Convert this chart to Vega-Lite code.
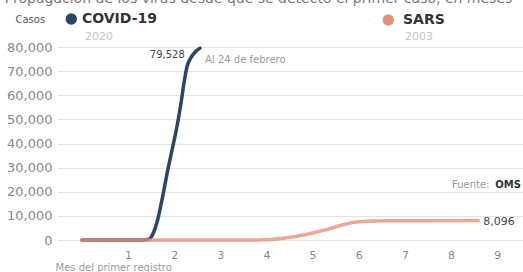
{
  "$schema": "https://vega.github.io/schema/vega-lite/v6.json",
  "width": 466,
  "height": 193,
  "autosize": "none",
  "padding": {"left": 57, "top": 47, "right": 0, "bottom": 32},
  "config": {"font": "DejaVu Sans", "view": {"stroke": null}},
  "datasets": {
    "series": [
      {"series": "COVID-19", "month": 0, "cases": 0},
      {"series": "COVID-19", "month": 0.5, "cases": 0},
      {"series": "COVID-19", "month": 1.0, "cases": 0},
      {"series": "COVID-19", "month": 1.3, "cases": 50},
      {"series": "COVID-19", "month": 1.45, "cases": 300},
      {"series": "COVID-19", "month": 1.55, "cases": 3000},
      {"series": "COVID-19", "month": 1.65, "cases": 9000},
      {"series": "COVID-19", "month": 1.75, "cases": 18000},
      {"series": "COVID-19", "month": 1.85, "cases": 28000},
      {"series": "COVID-19", "month": 1.95, "cases": 37000},
      {"series": "COVID-19", "month": 2.05, "cases": 46000},
      {"series": "COVID-19", "month": 2.15, "cases": 57000},
      {"series": "COVID-19", "month": 2.22, "cases": 66000},
      {"series": "COVID-19", "month": 2.28, "cases": 72000},
      {"series": "COVID-19", "month": 2.36, "cases": 75500},
      {"series": "COVID-19", "month": 2.46, "cases": 78000},
      {"series": "COVID-19", "month": 2.56, "cases": 79528},
      {"series": "SARS", "month": 0, "cases": 0},
      {"series": "SARS", "month": 1, "cases": 0},
      {"series": "SARS", "month": 2, "cases": 0},
      {"series": "SARS", "month": 3, "cases": 0},
      {"series": "SARS", "month": 3.8, "cases": 0},
      {"series": "SARS", "month": 4.1, "cases": 200},
      {"series": "SARS", "month": 4.4, "cases": 800},
      {"series": "SARS", "month": 4.7, "cases": 1700},
      {"series": "SARS", "month": 5.0, "cases": 2900},
      {"series": "SARS", "month": 5.3, "cases": 4300},
      {"series": "SARS", "month": 5.6, "cases": 6000},
      {"series": "SARS", "month": 5.9, "cases": 7400},
      {"series": "SARS", "month": 6.2, "cases": 7800},
      {"series": "SARS", "month": 6.6, "cases": 7950},
      {"series": "SARS", "month": 7.5, "cases": 8020},
      {"series": "SARS", "month": 8.59, "cases": 8096}
    ],
    "dots": [
      {"series": "COVID-19", "month": -0.23, "cases": 91600},
      {"series": "SARS", "month": 6.64, "cases": 91200}
    ],
    "legendText": [
      {"text": "COVID-19", "month": 0.0, "cases": 91600},
      {"text": "SARS", "month": 6.96, "cases": 91200}
    ],
    "yearText": [
      {"text": "2020", "month": 0.065, "cases": 84100},
      {"text": "2003", "month": 7.0, "cases": 84100}
    ],
    "noteText": [
      {"text": "Al 24 de febrero", "month": 2.67, "cases": 74600},
      {"text": "Fuente:", "month": 8.02, "cases": 22800}
    ],
    "sourceText": [
      {"text": "OMS", "month": 8.96, "cases": 22800}
    ],
    "valueText": [
      {"text": "8,096", "month": 8.7, "cases": 7460}
    ],
    "headText": [
      {"text": "Propagación de los virus desde que se detectó el primer caso, en meses", "month": -1.67, "cases": 99900}
    ],
    "rightText": [
      {"text": "79,528", "month": 2.23, "cases": 76700}
    ]
  },
  "encoding": {
    "x": {"field": "month", "type": "quantitative", "scale": {"domain": [-0.54, 9.56], "nice": false, "zero": false},
      "axis": {"values": [1, 2, 3, 4, 5, 6, 7, 8, 9], "grid": false, "domain": false, "ticks": false, "labelPadding": 9, "labelColor": "#888", "labelFontSize": 11, "labelOverlap": false,
        "title": "Mes del primer registro", "titleX": -2, "titleY": 27, "titleAlign": "left", "titleBaseline": "middle", "titleFontSize": 10, "titleColor": "#999", "titleFontWeight": "normal"}},
    "y": {"field": "cases", "type": "quantitative", "scale": {"domain": [0, 80000], "nice": false},
      "axis": {"values": [0, 10000, 20000, 30000, 40000, 50000, 60000, 70000, 80000], "format": ",.0f", "grid": true, "gridColor": "#e2e2e2", "domain": false, "ticks": false, "labelPadding": 5, "labelColor": "#888", "labelFontSize": 13, "labelOverlap": false,
        "title": "Casos", "titleAngle": 0, "titleX": -42, "titleY": -28, "titleAlign": "left", "titleBaseline": "middle", "titleFontSize": 10, "titleColor": "#555", "titleFontWeight": "normal"}}
  },
  "layer": [
    {
      "data": {"name": "series"},
      "transform": [{"filter": "datum.series === 'COVID-19'"}],
      "mark": {"type": "line", "strokeWidth": 3.5, "interpolate": "monotone", "strokeCap": "round"},
      "encoding": {
        "color": {"field": "series", "type": "nominal", "scale": {"domain": ["COVID-19", "SARS"], "range": ["#2c4466", "#e8907f"]}, "legend": null}
      }
    },
    {
      "data": {"name": "series"},
      "transform": [{"filter": "datum.series === 'SARS'"}],
      "mark": {"type": "line", "strokeWidth": 3.5, "interpolate": "monotone", "opacity": 0.8, "strokeCap": "round"},
      "encoding": {
        "color": {"field": "series", "type": "nominal", "legend": null}
      }
    },
    {
      "data": {"name": "dots"},
      "mark": {"type": "point", "filled": true, "size": 130, "opacity": 1},
      "encoding": {
        "color": {"field": "series", "type": "nominal", "legend": null}
      }
    },
    {
      "data": {"name": "legendText"},
      "mark": {"type": "text", "align": "left", "baseline": "middle", "fontWeight": "bold", "color": "#333", "fontSize": 14},
      "encoding": {"text": {"field": "text"}}
    },
    {
      "data": {"name": "yearText"},
      "mark": {"type": "text", "align": "left", "baseline": "middle", "color": "#c4c4c4", "fontSize": 11},
      "encoding": {"text": {"field": "text"}}
    },
    {
      "data": {"name": "noteText"},
      "mark": {"type": "text", "align": "left", "baseline": "middle", "color": "#999", "fontSize": 10},
      "encoding": {"text": {"field": "text"}}
    },
    {
      "data": {"name": "sourceText"},
      "mark": {"type": "text", "align": "left", "baseline": "middle", "color": "#333", "fontSize": 10, "fontWeight": "bold"},
      "encoding": {"text": {"field": "text"}}
    },
    {
      "data": {"name": "valueText"},
      "mark": {"type": "text", "align": "left", "baseline": "middle", "color": "#444", "fontSize": 11},
      "encoding": {"text": {"field": "text"}}
    },
    {
      "data": {"name": "headText"},
      "mark": {"type": "text", "align": "left", "baseline": "middle", "color": "#777", "fontSize": 14},
      "encoding": {"text": {"field": "text"}}
    },
    {
      "data": {"name": "rightText"},
      "mark": {"type": "text", "align": "right", "baseline": "middle", "color": "#444", "fontSize": 10},
      "encoding": {"text": {"field": "text"}}
    }
  ]
}
